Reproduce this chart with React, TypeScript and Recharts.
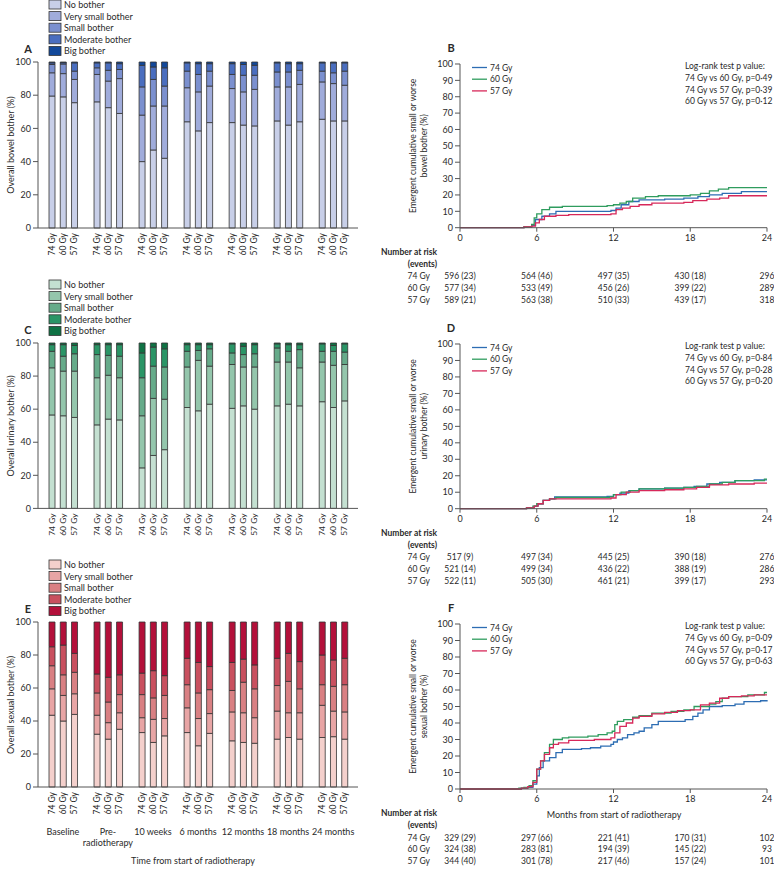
import React from "react";
import { BarChart, Bar, XAxis, YAxis, LineChart, Line } from "recharts";

const FONT = "Lato, 'Open Sans', sans-serif";
const INK = "#2a2a2a";
const AXIS = "#555";

const doses = ["74 Gy", "60 Gy", "57 Gy"];
const timepoints = [["Baseline"], ["Pre-", "radiotherapy"], ["10 weeks"], ["6 months"], ["12 months"], ["18 months"], ["24 months"]];
const levels = ["No bother", "Very small bother", "Small bother", "Moderate bother", "Big bother"];

// % of patients per bother level, 7 timepoints x (74, 60, 57 Gy)
const bowelNo = [79.5, 79, 75.5, 76, 72.5, 69, 40, 47, 42, 64, 58.5, 63.5, 63.5, 62, 61.5, 64.5, 62, 64, 65.5, 64.5, 64.5];
const bowelVerySmall = [14, 14, 14, 16.5, 16, 21, 28, 26.5, 31.5, 20.5, 23.5, 22, 20.5, 20, 22, 20.5, 23, 22.5, 22.5, 22.5, 21.5];
const bowelSmall = [5, 5.8, 5, 4, 6.5, 5.5, 17, 16, 12, 10, 10.5, 9, 8.5, 10, 8.5, 9, 9, 8.5, 6.5, 6.5, 8.5];
const bowelModerate = [1, 0.8, 5, 3, 4.5, 3.5, 13, 7.5, 11, 5, 6.5, 4.5, 6.5, 6.5, 6, 5.5, 5, 4, 5, 6, 5];
const bowelBig = [0.5, 0.4, 0.5, 0.5, 0.5, 1, 2, 3, 3.5, 0.5, 1, 1, 1, 1.5, 2, 0.5, 1, 1, 0.5, 0.5, 0.5];

const urinaryNo = [56.5, 56, 55, 50.5, 54, 53.5, 24.5, 32, 35.5, 61, 59, 63, 60.5, 62, 60, 62, 63, 62, 64.5, 61, 65];
const urinaryVerySmall = [28.5, 27, 28, 28.5, 26.5, 25.5, 31.5, 34.5, 30.5, 24.5, 30.5, 23, 26.5, 23.5, 25.5, 26.5, 25.5, 23, 24, 25.5, 22];
const urinarySmall = [10, 9, 10.5, 14, 12, 13, 23, 19.5, 19.5, 9.5, 6, 10.5, 7, 7.5, 8, 8.5, 6.5, 11, 6.5, 8.5, 7.5];
const urinaryModerate = [4, 7, 5, 6, 6.5, 7, 15, 11.5, 11, 4, 3.5, 2.5, 5.5, 5, 5.5, 2.5, 4, 3, 4.5, 3.5, 5];
const urinaryBig = [1, 1, 1.5, 1, 1, 1, 6, 2.5, 3.5, 1, 1, 1, 0.5, 2, 1, 0.5, 1, 1, 0.5, 1.5, 0.5];

const sexualNo = [43.5, 40, 44, 32, 29, 35, 33, 27, 31, 33, 25, 32.5, 28, 27, 26.5, 29, 30, 29, 30, 30.5, 29];
const sexualVerySmall = [16, 15.5, 12.5, 11.5, 10, 10, 9, 14, 10.5, 15, 16.5, 12, 17.5, 18, 15.5, 17, 15, 16, 19.5, 15.5, 16.5];
const sexualSmall = [14, 12.5, 13, 13.5, 12.5, 11, 14, 13, 14, 14, 15.5, 14.5, 13, 18.5, 17.5, 15.5, 19, 14.5, 12.5, 15, 16.5];
const sexualModerate = [11.5, 18, 11.5, 11.5, 15, 12, 13, 16.5, 12, 16, 18.5, 14, 17, 14, 14.5, 16.5, 17, 16.5, 18, 16, 16];
const sexualBig = [15, 14, 19, 31.5, 33.5, 32, 31, 29.5, 32.5, 22, 24.5, 27, 24.5, 22.5, 26, 22, 19, 24, 20, 23, 22];

const bowelColors = ["#c8cfe8", "#a0acdb", "#7b90cf", "#4a6ebf", "#12489a"];
const urinaryColors = ["#c4e0d1", "#94c6ac", "#66ab8a", "#2a9566", "#0f7244"];
const sexualColors = ["#f4d0cc", "#e8a5a5", "#d98083", "#c9505f", "#b3103a"];

// cumulative incidence, [month, %] step points
const bowel74 = [[0, 0], [5, 0.5], [5.6, 1.5], [5.9, 5], [6.4, 7], [7, 8.5], [7.5, 10], [11.8, 10.5], [12.2, 12], [12.6, 14], [13.2, 16], [14, 17], [16, 17.5], [17.5, 18], [18.6, 19], [19.5, 20], [20.5, 21], [22, 22], [24, 22]];
const bowel60 = [[0, 0], [5, 0.5], [5.6, 2], [5.8, 6], [6, 8.5], [6.4, 11], [7, 12.5], [8, 13], [11.5, 13.5], [12, 14], [12.5, 15], [13, 16], [13.5, 18], [14.5, 19], [15.5, 19.5], [18, 20], [18.8, 21], [19.5, 22.5], [20.2, 23.5], [21, 24.5], [24, 24.5]];
const bowel57 = [[0, 0], [5, 0.5], [5.6, 1], [5.9, 3], [6.2, 5], [6.6, 7], [7.5, 7.5], [8.5, 8], [11.8, 8.5], [12.2, 11], [12.7, 12], [13.3, 13], [14, 14], [15, 15], [17.5, 15.5], [18.2, 16.5], [19.3, 17.5], [20.3, 18], [21, 19.5], [24, 19.5]];

const urinary74 = [[0, 0], [5.2, 0.5], [5.8, 1.5], [6.1, 3], [6.5, 5], [7, 6], [7.4, 7.2], [11.5, 7.5], [12, 8.5], [12.5, 9.5], [13.2, 11], [14, 12], [16, 12.5], [17.5, 13], [18.3, 13.5], [19.3, 15], [20.3, 16], [21.5, 17], [23, 17.5], [24, 17.5]];
const urinary60 = [[0, 0], [5.2, 0.5], [5.7, 1.5], [6, 3], [6.5, 5], [7, 6], [7.5, 6.8], [11.7, 7.2], [12, 8.5], [12.6, 10], [13.3, 11], [14, 12], [16, 12.5], [17.5, 13], [18.5, 13.5], [19.5, 15], [20.5, 16], [21.5, 17], [23.8, 18], [24, 18]];
const urinary57 = [[0, 0], [5.2, 0.5], [5.8, 1.5], [6.1, 3], [6.5, 5], [7, 6], [11.8, 6.5], [12.2, 8.5], [13, 10], [14, 11], [16, 11.5], [17.5, 12], [18.5, 13], [19.5, 14.5], [21, 15], [23, 15.5], [24, 15.5]];

const sexual74 = [[0, 0], [4.8, 0.5], [5.3, 1], [5.7, 3], [6, 8], [6.2, 13], [6.5, 17], [7, 19], [7.5, 22], [8, 24], [9.5, 24.5], [10.2, 25], [11, 26], [11.8, 27], [12, 28.5], [12.3, 30], [12.7, 31], [13.1, 33], [13.6, 34], [14, 35], [14.4, 37], [15, 39], [15.5, 41], [17.6, 42], [18.2, 44], [18.6, 46], [19, 48], [19.5, 50], [20.5, 50.5], [21.5, 51.5], [22.2, 53], [23.5, 53.5], [24, 54]];
const sexual60 = [[0, 0], [4.6, 0.5], [5, 1], [5.4, 2], [5.7, 5], [6, 12], [6.3, 17], [6.6, 22], [7, 27], [7.3, 30], [8, 31], [8.5, 31.5], [10, 32], [10.8, 33], [11.5, 34], [11.9, 35], [12.1, 39], [12.3, 41], [12.8, 42], [13.5, 43.5], [14, 44.5], [15, 46], [16.5, 47], [17.5, 48], [18.3, 50], [19.5, 51.5], [20, 53], [20.5, 55], [21, 56], [22.5, 57], [23.8, 58.5], [24, 58.5]];
const sexual57 = [[0, 0], [4.8, 0.5], [5.3, 1.5], [5.7, 4], [6, 12], [6.3, 17], [6.6, 21], [7, 25], [7.3, 27], [7.7, 28], [8.5, 29.5], [10.5, 30], [11.8, 31], [12.1, 34], [12.5, 38], [13, 40], [13.5, 43], [14, 44], [15, 45.5], [16, 46.5], [17, 47.5], [18, 48], [18.8, 51], [19.5, 52], [20.3, 55], [21, 56], [22, 56.5], [23, 57], [24, 57]];

const kmColors = ["#2d6db3", "#2f9c5e", "#d7285a"];
const monthTicks = [0, 6, 12, 18, 24];

const bowelPvals = ["0·49", "0·39", "0·12"];
const urinaryPvals = ["0·84", "0·28", "0·20"];
const sexualPvals = ["0·09", "0·17", "0·63"];
const comparisons = ["74 Gy vs 60 Gy", "74 Gy vs 57 Gy", "60 Gy vs 57 Gy"];

// number at risk (events) at 0, 6, 12, 18, 24 months
const bowelRisk = [
  ["596 (23)", "564 (46)", "497 (35)", "430 (18)", "296"],
  ["577 (34)", "533 (49)", "456 (26)", "399 (22)", "289"],
  ["589 (21)", "563 (38)", "510 (33)", "439 (17)", "318"],
];
const urinaryRisk = [
  ["517 (9)", "497 (34)", "445 (25)", "390 (18)", "276"],
  ["521 (14)", "499 (34)", "436 (22)", "388 (19)", "286"],
  ["522 (11)", "505 (30)", "461 (21)", "399 (17)", "293"],
];
const sexualRisk = [
  ["329 (29)", "297 (66)", "221 (41)", "170 (31)", "102"],
  ["324 (38)", "283 (81)", "194 (39)", "145 (22)", "93"],
  ["344 (40)", "301 (78)", "217 (46)", "157 (24)", "101"],
];

function buildRows(series: number[][]) {
  const rows: any[] = [];
  timepoints.forEach((_, g) => {
    doses.forEach((d, i) => {
      const row: any = { key: `${g}-${i}`, dose: d, group: g, mid: i === 1 };
      series.forEach((s, k) => (row[`s${k}`] = s[g * 3 + i]));
      rows.push(row);
    });
    if (g < timepoints.length - 1) rows.push({ key: `gap-${g}`, dose: "" });
  });
  return rows;
}

function makeDoseTick(rows: any[], withGroups: boolean) {
  const byKey: any = {};
  rows.forEach((r) => (byKey[r.key] = r));
  return (props: any) => {
    const { x, y, payload } = props;
    const r = byKey[payload.value];
    if (!r || !r.dose) return <g />;
    return (
      <g>
        <text transform={`translate(${x},${y}) rotate(-90)`} textAnchor="end" dominantBaseline="central" fontSize={8.5} fill={INK} fontFamily={FONT}>
          {r.dose}
        </text>
        {withGroups && r.mid &&
          timepoints[r.group].map((line, j) => (
            <text key={j} x={x} y={y + 39 + j * 11.5} textAnchor="middle" dominantBaseline="central" fontSize={9} fill={INK} fontFamily={FONT}>
              {line}
            </text>
          ))}
      </g>
    );
  };
}

function BotherPanel({ series, colors, top, bottom, withGroups }: any) {
  const rows = buildRows(series);
  const axisH = withGroups ? 70 : 30;
  return (
    <div style={{ position: "absolute", left: 0, top: top - 6 }}>
      <BarChart width={370} height={bottom - top + 6 + axisH} data={rows} margin={{ top: 6, right: 12, left: 0, bottom: 0 }} barSize={6}>
        <XAxis dataKey="key" interval={0} tickSize={0} tickMargin={5} height={axisH} padding={{ left: 8, right: 8 }} stroke={AXIS} tick={makeDoseTick(rows, withGroups)} />
        <YAxis domain={[0, 100]} ticks={[0, 20, 40, 60, 80, 100]} width={38} tickSize={5} tickMargin={2} stroke={AXIS} tick={{ fontSize: 9, fill: INK, fontFamily: FONT }} />
        {series.map((_: any, k: number) => (
          <Bar key={k} dataKey={`s${k}`} stackId="a" fill={colors[k]} stroke="#333" strokeWidth={0.8} isAnimationActive={false} />
        ))}
      </BarChart>
    </div>
  );
}

const KM_LEFT = 460;
const KM_RIGHT = 767;
const monthX = (t: number) => KM_LEFT + (t / 24) * (KM_RIGHT - KM_LEFT);

function KMPanel({ curves, top, bottom, withXLabel }: any) {
  const axisH = withXLabel ? 20 : 20;
  return (
    <div style={{ position: "absolute", left: 390, top: top - 8 }}>
      <LineChart width={384} height={bottom - top + 8 + axisH} margin={{ top: 8, right: 774 - 390 - (KM_RIGHT - 390), left: KM_LEFT - 390 - 40, bottom: 0 }}>
        <XAxis dataKey="t" type="number" domain={[0, 24]} ticks={monthTicks} height={axisH} tickSize={4} tickMargin={3} stroke={AXIS} tick={{ fontSize: 9, fill: INK, fontFamily: FONT }} allowDuplicatedCategory={false} />
        <YAxis domain={[0, 100]} ticks={[0, 10, 20, 30, 40, 50, 60, 70, 80, 90, 100]} width={40} tickSize={5} tickMargin={2} stroke={AXIS} tick={{ fontSize: 9, fill: INK, fontFamily: FONT }} />
        {curves.map((c: number[][], i: number) => (
          <Line key={i} data={c.map(([t, v]) => ({ t, v }))} dataKey="v" type="stepAfter" stroke={kmColors[i]} strokeWidth={1.3} dot={false} isAnimationActive={false} />
        ))}
      </LineChart>
    </div>
  );
}

const T = (p: any) => <text fontFamily={FONT} fill={INK} fontSize={9} dominantBaseline="central" {...p} />;

function BarLegend({ y0, colors }: any) {
  return (
    <g>
      {levels.map((l, i) => (
        <g key={l}>
          <rect x={49} y={y0 + i * 11.6 - 4.5} width={12} height={9} fill={colors[i]} stroke="#333" strokeWidth={0.8} />
          <T x={64} y={y0 + i * 11.6}>{l}</T>
        </g>
      ))}
    </g>
  );
}

function KMAnnotations({ top, bottom, pvals, risk, yLabel }: any) {
  const mid = (top + bottom) / 2;
  const tableY = bottom + 24;
  return (
    <g>
      {doses.map((d, i) => (
        <g key={d}>
          <line x1={472} x2={487} y1={top + 3.5 + i * 11.7} y2={top + 3.5 + i * 11.7} stroke={kmColors[i]} strokeWidth={1.3} />
          <T x={490} y={top + 3.5 + i * 11.7} fontSize={8.5}>{d}</T>
        </g>
      ))}
      <T x={685} y={top + 2} fontSize={8.5}>Log-rank test p value:</T>
      {comparisons.map((c, i) => (
        <T key={c} x={685} y={top + 2 + (i + 1) * 11.8} fontSize={8.5}>{`${c}, p=${pvals[i]}`}</T>
      ))}
      <T transform={`translate(413,${mid}) rotate(-90)`} textAnchor="middle" fontSize={8.5}>Emergent cumulative small or worse</T>
      <T transform={`translate(424,${mid}) rotate(-90)`} textAnchor="middle" fontSize={8.5}>{yLabel}</T>
      <T x={437} y={tableY} textAnchor="end" fontWeight="bold" fontSize={8.5}>Number at risk</T>
      <T x={437} y={tableY + 12} textAnchor="end" fontWeight="bold" fontSize={8.5}>(events)</T>
      {risk.map((row: string[], i: number) => (
        <g key={i}>
          <T x={430} y={tableY + 24.5 + i * 11.7} textAnchor="end" fontSize={8.5}>{doses[i]}</T>
          {row.map((v, j) => (
            <T key={j} x={monthX(monthTicks[j])} y={tableY + 24.5 + i * 11.7} textAnchor="middle" fontSize={8.5}>{v}</T>
          ))}
        </g>
      ))}
    </g>
  );
}

export default function App() {
  return (
    <div style={{ position: "absolute", left: 0, top: 0, width: 774, height: 876, background: "#fff", overflow: "hidden" }}>
      <BotherPanel series={[bowelNo, bowelVerySmall, bowelSmall, bowelModerate, bowelBig]} colors={bowelColors} top={62} bottom={228} withGroups={false} />
      <BotherPanel series={[urinaryNo, urinaryVerySmall, urinarySmall, urinaryModerate, urinaryBig]} colors={urinaryColors} top={343.3} bottom={508.7} withGroups={false} />
      <BotherPanel series={[sexualNo, sexualVerySmall, sexualSmall, sexualModerate, sexualBig]} colors={sexualColors} top={622.3} bottom={787.3} withGroups={true} />
      <KMPanel curves={[bowel74, bowel60, bowel57]} top={64} bottom={227.7} />
      <KMPanel curves={[urinary74, urinary60, urinary57]} top={344} bottom={508.7} />
      <KMPanel curves={[sexual74, sexual60, sexual57]} top={624} bottom={789} withXLabel />
      <svg width={774} height={876} style={{ position: "absolute", left: 0, top: 0, pointerEvents: "none" }}>
        <BarLegend y0={4.5} colors={bowelColors} />
        <BarLegend y0={284.5} colors={urinaryColors} />
        <BarLegend y0={564.5} colors={sexualColors} />
        <T x={28} y={48} fontSize={11} fontWeight="bold" textAnchor="middle">A</T>
        <T x={28} y={329} fontSize={11} fontWeight="bold" textAnchor="middle">C</T>
        <T x={28} y={608} fontSize={11} fontWeight="bold" textAnchor="middle">E</T>
        <T x={451} y={47} fontSize={11} fontWeight="bold" textAnchor="middle">B</T>
        <T x={451} y={327} fontSize={11} fontWeight="bold" textAnchor="middle">D</T>
        <T x={451} y={607} fontSize={11} fontWeight="bold" textAnchor="middle">F</T>
        <T transform="translate(10,145) rotate(-90)" textAnchor="middle">Overall bowel bother (%)</T>
        <T transform="translate(10,426) rotate(-90)" textAnchor="middle">Overall urinary bother (%)</T>
        <T transform="translate(10,705) rotate(-90)" textAnchor="middle">Overall sexual bother (%)</T>
        <T x={193} y={860} textAnchor="middle">Time from start of radiotherapy</T>
        <T x={614} y={814} textAnchor="middle">Months from start of radiotherapy</T>
        <KMAnnotations top={64} bottom={227.7} pvals={bowelPvals} risk={bowelRisk} yLabel="bowel bother (%)" />
        <KMAnnotations top={344} bottom={508.7} pvals={urinaryPvals} risk={urinaryRisk} yLabel="urinary bother (%)" />
        <KMAnnotations top={624} bottom={789} pvals={sexualPvals} risk={sexualRisk} yLabel="sexual bother (%)" />
      </svg>
    </div>
  );
}
